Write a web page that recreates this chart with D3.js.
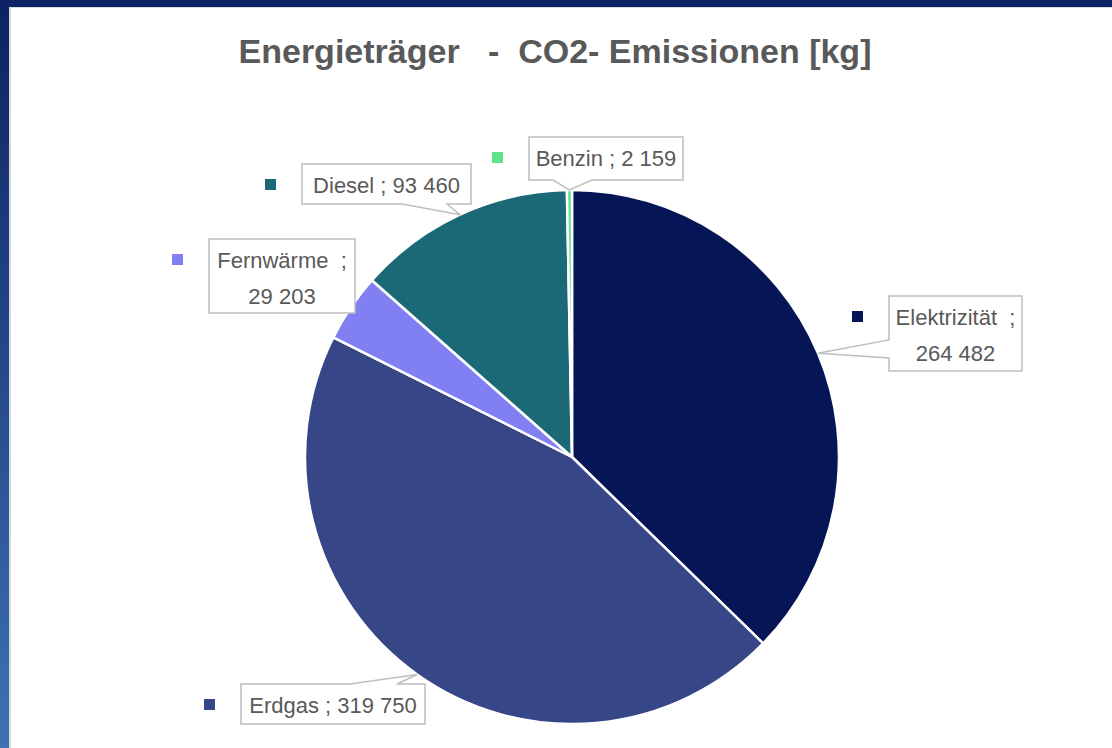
<!DOCTYPE html>
<html>
<head>
<meta charset="utf-8">
<script src="https://cdn.jsdelivr.net/npm/d3@7"></script>
<style>
  html, body { margin: 0; padding: 0; background: #fff; }
  svg { display: block; font-family: "Liberation Sans", Arial, sans-serif; }
</style>
</head>
<body>
<svg id="chart" width="1112" height="748"></svg>
<script>
// data
var categories = ["Elektrizität", "Erdgas", "Fernwärme", "Diesel", "Benzin"];
var values = [264482, 319750, 29203, 93460, 2159];
var colors = ["#061555", "#364687", "#8080f2", "#1b6876", "#5ee28a"];
var titleText = "Energieträger   -  CO2- Emissionen [kg]";

// callout boxes (layout only), in the same order as categories
var boxes = [
  {x: 889, y: 296, w: 133, h: 75, wrap: true, side: "left", a: 340, b: 358},
  {x: 241, y: 684, w: 184, h: 40, wrap: false, side: "top", a: 350, b: 397},
  {x: 209, y: 239, w: 146, h: 74, wrap: true, side: null},
  {x: 302, y: 164, w: 169, h: 40, wrap: false, side: "bottom", a: 402, b: 447},
  {x: 529, y: 137, w: 154, h: 43, wrap: false, side: "bottom", a: 553, b: 592}
];

var W = 1112, H = 748;
var cx = 572, cy = 457, R = 267;

var svg = d3.select("#chart");
var defs = svg.append("defs");

// frame: dark top bar and gradient left bar
var grad = defs.append("linearGradient").attr("id", "leftbar")
  .attr("x1", 0).attr("y1", 0).attr("x2", 0).attr("y2", 1);
grad.append("stop").attr("offset", "0%").attr("stop-color", "#0c2264");
grad.append("stop").attr("offset", "100%").attr("stop-color", "#3e72b2");

svg.append("rect").attr("x", 0).attr("y", 0).attr("width", W).attr("height", 7).attr("fill", "#0c2366");
svg.append("rect").attr("x", 0).attr("y", 0).attr("width", 9).attr("height", H).attr("fill", "url(#leftbar)");
svg.append("rect").attr("x", 9).attr("y", 7).attr("width", 2).attr("height", H).attr("fill", "#d9d9d9");
svg.append("rect").attr("x", 9).attr("y", 7).attr("width", W).attr("height", 1).attr("fill", "#d9d9d9");

// title
svg.append("text")
  .attr("x", 555).attr("y", 63)
  .attr("text-anchor", "middle")
  .style("white-space", "pre")
  .attr("font-size", 34).attr("font-weight", "bold")
  .attr("fill", "#595959")
  .text(titleText);

// pie, clockwise from 12 o'clock
var rows = categories.map(function(c, i) { return {name: c, value: values[i], color: colors[i], box: boxes[i]}; });
var pie = d3.pie().sort(null).value(function(d) { return d.value; });
var arcs = pie(rows);
var arc = d3.arc().innerRadius(0).outerRadius(R);

var g = svg.append("g").attr("transform", "translate(" + cx + "," + cy + ")");
g.selectAll("path.slice")
  .data(arcs)
  .enter().append("path")
  .attr("class", "slice")
  .attr("d", arc)
  .attr("fill", function(d) { return d.data.color; })
  .attr("stroke", "#fff")
  .attr("stroke-width", 2.5)
  .attr("stroke-linejoin", "round");

// labels
var loc = d3.formatLocale({decimal: ",", thousands: " ", grouping: [3], currency: ["", " €"]});
var fmt = loc.format(",d");

function tipPoint(d) {
  var a = (d.startAngle + d.endAngle) / 2;
  return [cx + R * Math.sin(a), cy - R * Math.cos(a)];
}

// callout path: rectangle with a pointer on one side
function calloutPath(b, tip) {
  var x0 = b.x, y0 = b.y, x1 = b.x + b.w, y1 = b.y + b.h;
  var p = d3.path();
  p.moveTo(x0, y0);
  if (b.side === "top") { p.lineTo(b.a, y0); p.lineTo(tip[0], tip[1]); p.lineTo(b.b, y0); }
  p.lineTo(x1, y0);
  p.lineTo(x1, y1);
  if (b.side === "bottom") { p.lineTo(b.b, y1); p.lineTo(tip[0], tip[1]); p.lineTo(b.a, y1); }
  p.lineTo(x0, y1);
  if (b.side === "left") { p.lineTo(x0, b.b); p.lineTo(tip[0], tip[1]); p.lineTo(x0, b.a); }
  p.closePath();
  return p.toString();
}

var lab = svg.append("g").attr("class", "labels");
arcs.forEach(function(d) {
  var b = d.data.box;
  var tip = tipPoint(d);
  lab.append("path")
    .attr("d", calloutPath(b, tip))
    .attr("fill", "#fff")
    .attr("stroke", "#bfbfbf")
    .attr("stroke-width", 1.5);

  var tx = b.x + b.w / 2;
  var t = lab.append("text")
    .attr("text-anchor", "middle")
    .attr("font-size", 22)
    .attr("fill", "#595959")
    .style("white-space", "pre");
  if (b.wrap) {
    t.append("tspan").attr("x", tx).attr("y", b.y + 29).text(d.data.name + "  ;");
    t.append("tspan").attr("x", tx).attr("y", b.y + 65).text(fmt(d.data.value));
  } else {
    t.attr("x", tx).attr("y", b.y + 29).text(d.data.name + " ; " + fmt(d.data.value));
  }

  // legend key square left of the box
  lab.append("rect")
    .attr("x", b.x - 37).attr("y", b.y + 15)
    .attr("width", 11).attr("height", 11)
    .attr("fill", d.data.color);
});
</script>
</body>
</html>
